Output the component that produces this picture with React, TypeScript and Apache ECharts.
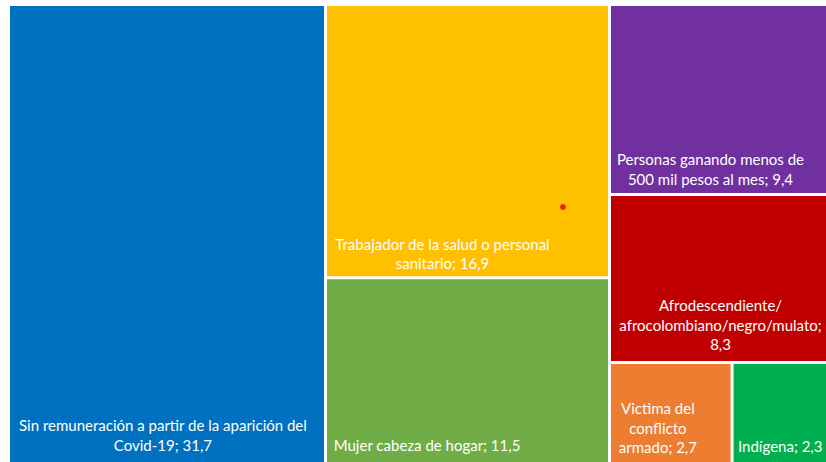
import React, { useEffect, useRef } from 'react';
import * as echarts from 'echarts';

// Category names (with the line breaks used in the labels)
const categories: string[] = [
  'Sin remuneración a partir de la aparición del\nCovid-19',
  'Trabajador de la salud o personal\nsanitario',
  'Mujer cabeza de hogar',
  'Personas ganando menos de\n500 mil pesos al mes',
  'Afrodescendiente/\nafrocolombiano/negro/mulato',
  'Victima del\nconflicto\narmado',
  'Indígena',
];

// Values (%)
const values: number[] = [31.7, 16.9, 11.5, 9.4, 8.3, 2.7, 2.3];

// Styles
const colors: string[] = ['#0070C0', '#FFC000', '#70AD47', '#7030A0', '#C00000', '#ED7D31', '#00B050'];
const labelSeparators: string[] = ['; ', '; ', '; ', '; ', ';\n', '; ', '; '];
const labelPositions: [string, string][] = [
  ['48.7%', '94.1%'],
  ['41.1%', '91.6%'],
  ['35.6%', '90.6%'],
  ['44.4%', '87%'],
  ['48.9%', '78.2%'],
  ['39.2%', '65%'],
  ['46%', '83.5%'],
];

const fmt = (v: number) => v.toFixed(1).replace('.', ',');

export default function App() {
  const ref = useRef<HTMLDivElement>(null);
  useEffect(() => {
    if (!ref.current) return;
    const chart = echarts.init(ref.current, undefined, { renderer: 'svg' });
    const data = categories.map((name, i) => ({
      name,
      value: values[i],
      itemStyle: { color: colors[i] },
      label: { position: labelPositions[i] },
    }));
    chart.setOption({
      animation: false,
      backgroundColor: '#ffffff',
      series: [
        {
          type: 'treemap',
          left: 10,
          top: 6,
          width: 825,
          height: 456,
          squareRatio: 1,
          roam: false,
          nodeClick: false,
          sort: 'desc',
          breadcrumb: { show: false },
          levels: [
            { itemStyle: { gapWidth: 3, borderWidth: 0, borderColor: '#ffffff' } },
          ],
          label: {
            show: true,
            align: 'center',
            verticalAlign: 'middle',
            color: '#ffffff',
            fontFamily: 'Lato',
            fontSize: 15,
            lineHeight: 19.5,
            overflow: 'none',
            formatter: (p: any) => `${p.name}${labelSeparators[p.dataIndex - 1] ?? '; '}${fmt(p.value)}`,
          },
          emphasis: { disabled: true },
          data,
        },
      ],
      graphic: [
        {
          type: 'circle',
          shape: { cx: 563, cy: 207, r: 3 },
          style: { fill: '#E8231D' },
          z: 100,
        },
      ],
    });
    return () => chart.dispose();
  }, []);
  return (
    <div
      ref={ref}
      style={{ position: 'absolute', left: 0, top: 0, width: 826, height: 462, overflow: 'hidden' }}
    />
  );
}
